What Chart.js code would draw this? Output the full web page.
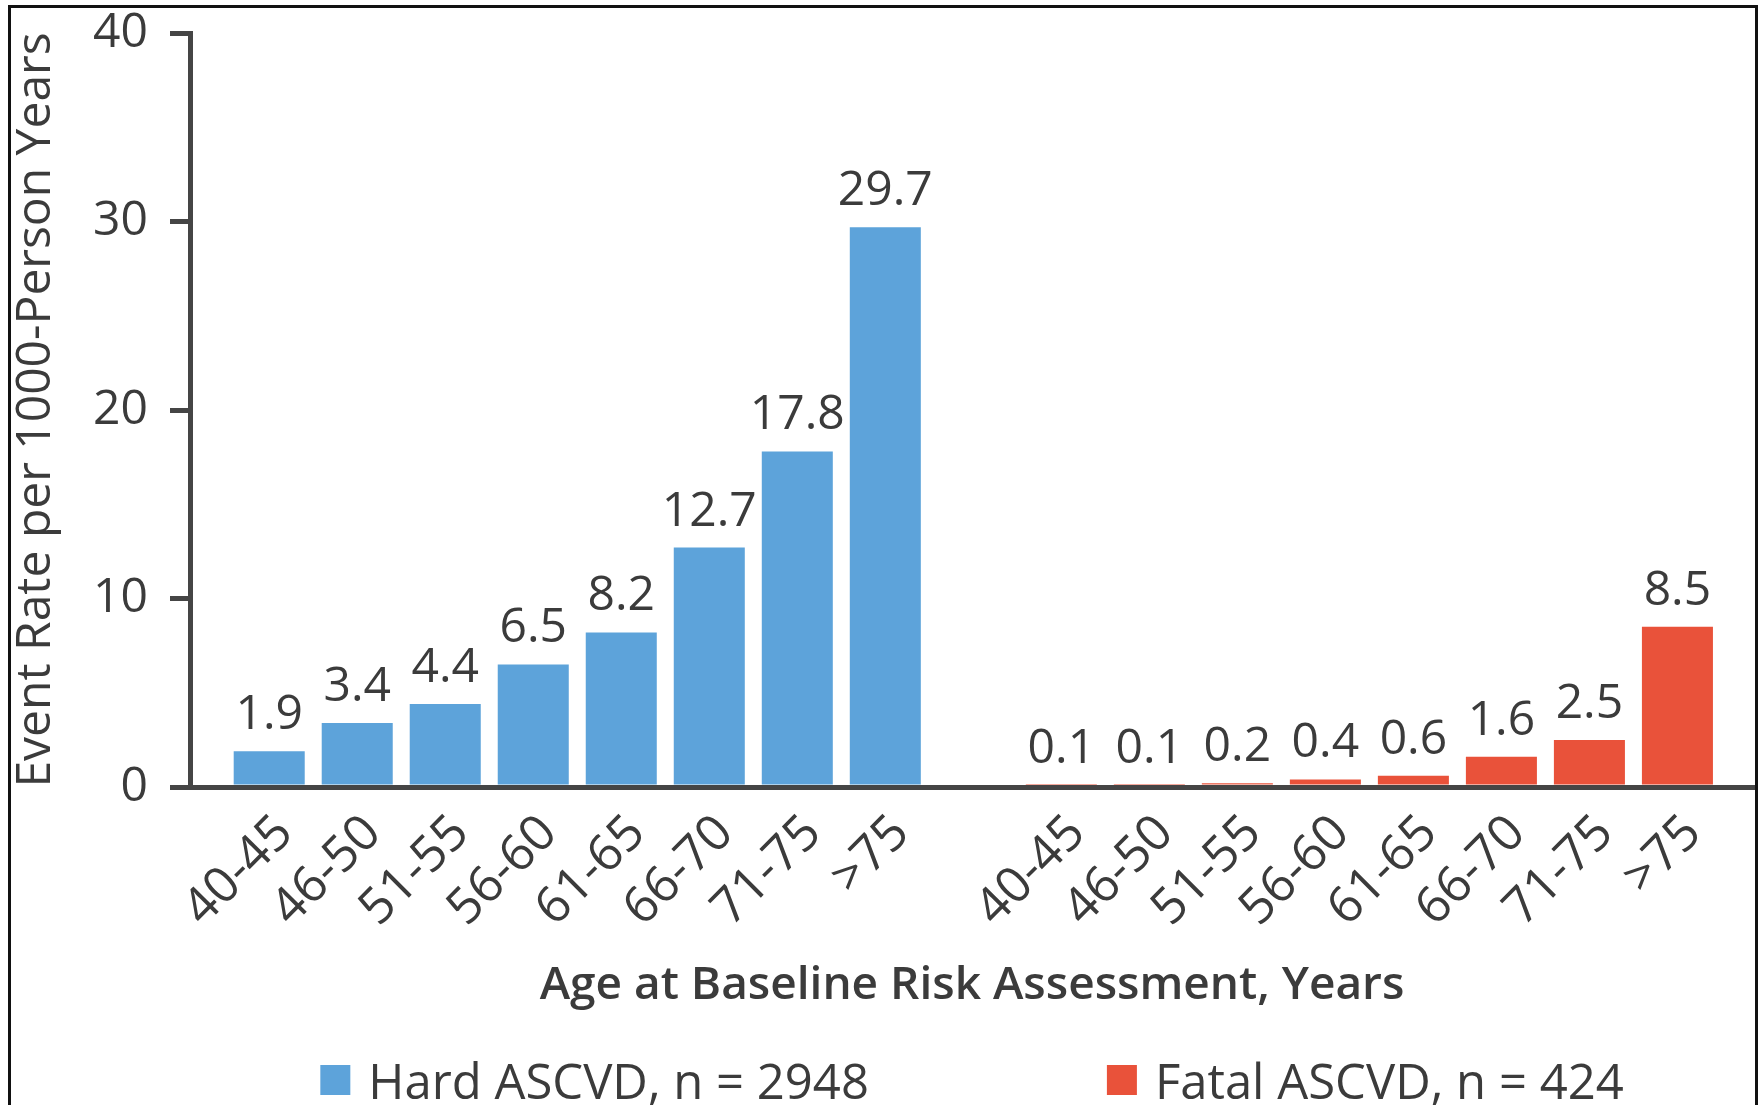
<!DOCTYPE html>
<html>
<head>
<meta charset="utf-8">
<script src="https://cdn.jsdelivr.net/npm/chart.js@4.4.1/dist/chart.umd.min.js"></script>
<style>
  html, body { margin: 0; padding: 0; background: #ffffff; overflow: hidden; }
  #wrap { position: relative; width: 1758px; height: 1105px; overflow: hidden; }
  #c { position: absolute; left: 0; top: 0; }
  #frame { position: absolute; left: 8px; top: 5px; width: 1750px; height: 1200px;
           border: 3px solid #111111; box-sizing: border-box; pointer-events: none; }
</style>
</head>
<body>
<div id="wrap">
  <canvas id="c" width="1758" height="1105"></canvas>
  <div id="frame"></div>
</div>
<script>
// ---- data ----
const ageGroups = ['40-45', '46-50', '51-55', '56-60', '61-65', '66-70', '71-75', '>75'];
const hardASCVD = [1.9, 3.4, 4.4, 6.5, 8.2, 12.7, 17.8, 29.7];
const fatalASCVD = [0.1, 0.1, 0.2, 0.4, 0.6, 1.6, 2.5, 8.5];
const yTickValues = [0, 10, 20, 30, 40];
const seriesNames = ['Hard ASCVD, n = 2948', 'Fatal ASCVD, n = 424'];
const xAxisTitle = 'Age at Baseline Risk Assessment, Years';
const yAxisTitle = 'Event Rate per 1000-Person Years';

// ---- styles ----
const BLUE = '#5DA3DA';
const RED = '#E9523A';
const TEXT = '#3b3b3b';
const AXIS = '#454545';
const FONT = '"Open Sans", "Noto Sans", sans-serif';

// slot index on the x axis: group g (0 = hard, 1 = fatal), one empty slot between groups
const groupSize = ageGroups.length + 1;
const slotOf = (g, i) => g * groupSize + i;
const hardPoints = hardASCVD.map((v, i) => ({ x: slotOf(0, i), y: v }));
const fatalPoints = fatalASCVD.map((v, i) => ({ x: slotOf(1, i), y: v }));
const tickSlots = [...ageGroups.map((_, i) => slotOf(0, i)), ...ageGroups.map((_, i) => slotOf(1, i))];

const valueLabels = {
  id: 'valueLabels',
  afterDatasetsDraw(chart) {
    const ctx = chart.ctx;
    ctx.save();
    ctx.font = '48px ' + FONT;
    ctx.fillStyle = TEXT;
    ctx.textAlign = 'center';
    ctx.textBaseline = 'alphabetic';
    chart.data.datasets.forEach((ds, di) => {
      const meta = chart.getDatasetMeta(di);
      meta.data.forEach((bar, i) => {
        ctx.fillText(ds.data[i].y.toFixed(1), bar.x, bar.y - 22);
      });
    });
    ctx.restore();
  }
};

const spacedLegend = {
  id: 'spacedLegend',
  afterDraw(chart) {
    const { ctx, chartArea } = chart;
    ctx.save();
    ctx.font = '49px ' + FONT;
    const box = 30, textGap = 18, itemGap = 238;
    const items = chart.data.datasets.map(ds => ({
      text: ds.label, color: ds.backgroundColor,
      w: box + textGap + ctx.measureText(ds.label).width
    }));
    const total = items.reduce((s, it) => s + it.w, 0) + itemGap * (items.length - 1);
    let x = (chartArea.left + chartArea.right) / 2 - total / 2;
    const cy = 1080;
    items.forEach(it => {
      ctx.fillStyle = it.color;
      ctx.fillRect(x, cy - box / 2, box, box);
      ctx.fillStyle = TEXT;
      ctx.textAlign = 'left';
      ctx.textBaseline = 'alphabetic';
      ctx.fillText(it.text, x + box + textGap, cy + 19);
      x += it.w + itemGap;
    });
    ctx.restore();
  }
};

new Chart(document.getElementById('c'), {
  type: 'bar',
  data: {
    datasets: [
      { label: seriesNames[0], data: hardPoints, backgroundColor: BLUE },
      { label: seriesNames[1], data: fatalPoints, backgroundColor: RED }
    ]
  },
  options: {
    responsive: false,
    animation: false,
    grouped: false,
    categoryPercentage: 0.807,
    barPercentage: 1.0,
    layout: { padding: { top: 33, left: 0, right: 4, bottom: 90 } },
    plugins: {
      legend: { display: false },
      tooltip: { enabled: false }
    },
    scales: {
      x: {
        type: 'linear',
        offset: false,
        min: -0.9,
        max: 16.87,
        afterBuildTicks: s => { s.ticks = tickSlots.map(v => ({ value: v })); },
        afterFit: s => { s.height = 228; s.paddingLeft = 0; s.paddingRight = 0; },
        grid: { display: false, drawTicks: false, offset: false },
        border: { display: true, color: AXIS, width: 5 },
        ticks: {
          autoSkip: false,
          minRotation: 45,
          maxRotation: 45,
          padding: 17,
          labelOffset: 16,
          color: TEXT,
          font: { family: FONT, size: 50 },
          callback: v => ageGroups[v % groupSize]
        },
        title: {
          display: true,
          text: xAxisTitle,
          color: TEXT,
          font: { family: FONT, size: 46, weight: '600' },
          padding: { top: 0, bottom: 2 }
        }
      },
      y: {
        min: 0,
        max: 40,
        afterBuildTicks: s => { s.ticks = yTickValues.map(v => ({ value: v })); },
        afterFit: s => { s.width = 190; s.paddingTop = 0; s.paddingBottom = 0; },
        grid: { drawOnChartArea: false, drawTicks: true, tickLength: 20, color: AXIS, lineWidth: 5 },
        border: { display: true, color: AXIS, width: 5 },
        ticks: {
          padding: 22,
          color: TEXT,
          font: { family: FONT, size: 48 }
        },
        title: {
          display: true,
          text: yAxisTitle,
          color: TEXT,
          font: { family: FONT, size: 48 },
          padding: { top: 8, bottom: 0 }
        }
      }
    }
  },
  plugins: [valueLabels, spacedLegend]
});
</script>
</body>
</html>
